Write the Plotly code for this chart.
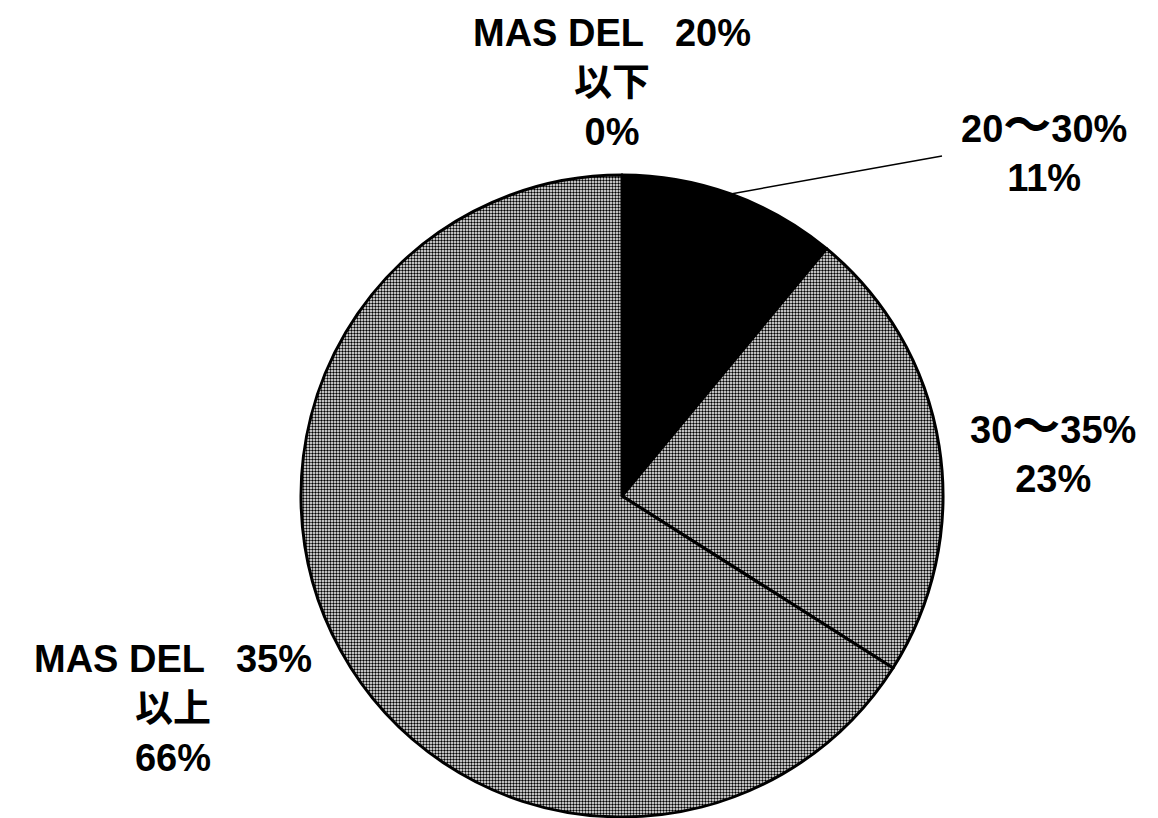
import math
import plotly.graph_objects as go

# ---- data ----
categories = ["MAS DEL   20%<br>以下", "20～30%", "30～35%", "MAS DEL   35%<br>以上"]
values = [0, 11, 23, 66]
pct_labels = ["0%", "11%", "23%", "66%"]

W, H = 1158, 818
OFF = 8  # page body margin
cx, cy, R = 622 - OFF, 496 - OFF, 321  # pie centre / radius in pixels

fig = go.Figure(go.Pie(
    labels=categories,
    values=values,
    sort=False,
    direction="clockwise",
    rotation=0,
    textinfo="none",
    hoverinfo="label+percent",
    showlegend=False,
    marker=dict(
        colors=["#ffffff", "#000000", "#ffffff", "#ffffff"],
        line=dict(color="black", width=3),
        pattern=dict(shape=[".", "", ".", "."], fgcolor="#000000",
                     bgcolor="#ffffff", size=3, solidity=0.5),
    ),
    domain=dict(x=[(cx - R) / W, (cx + R) / W], y=[(H - cy - R) / H, (H - cy + R) / H]),
))

font = dict(family="Arial, 'Liberation Sans', 'Noto Sans CJK JP'", size=38, color="black")

# label positions (pixel centres of text blocks, reference coords)
label_pos = [(612, 83), (1044, 149), (1053, 450), (173, 708)]
for cat, pct, (px, py) in zip(categories, pct_labels, label_pos):
    txt = cat.replace("～", '<span style="font-size:48px">～</span>')
    fig.add_annotation(text=f"<b>{txt}<br>{pct}</b>", x=(px - OFF) / W, y=1 - (py - OFF) / H,
                       xref="paper", yref="paper",
                       showarrow=False, font=font, align="center", xanchor="center", yanchor="middle")

# leader line for the 11% slice, from the pie edge at the slice middle
start = values[0] / sum(values) * 360
mid = math.radians(start + values[1] / sum(values) * 360 / 2)
ex, ey = cx + R * math.sin(mid), cy - R * math.cos(mid)
fig.add_shape(type="line", xref="paper", yref="paper",
              x0=ex / W, y0=1 - ey / H, x1=(942 - OFF) / W, y1=1 - (156 - OFF) / H,
              line=dict(color="black", width=1.5))

fig.update_layout(width=W, height=H, margin=dict(l=0, r=0, t=0, b=0),
                  paper_bgcolor="white", plot_bgcolor="white")
fig.write_html("out.html")
